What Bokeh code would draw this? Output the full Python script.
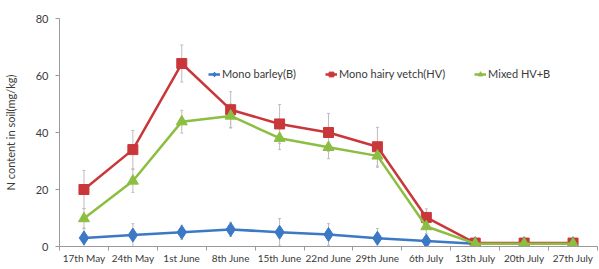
from bokeh.plotting import figure
from bokeh.models import (Range1d, FixedTicker, ColumnDataSource, Whisker, TeeHead,
                          Legend, LegendItem)
from bokeh.embed import file_html
from bokeh.resources import INLINE

dates = ["17th May", "24th May", "1st June", "8th June", "15th June", "22nd June",
         "29th June", "6th July", "13th July", "20th July", "27th July"]

barley = [3, 4, 5, 6, 5, 4.2, 2.9, 1.9, 1.0, 1.0, 1.0]
barley_err = [3.5, 4, 2.5, 2.5, 4.8, 3.8, 3.4, 1.5, 0.4, 0.4, 0.4]
vetch = [20, 34, 64.2, 48, 43, 40, 35, 10.2, 1.2, 1.2, 1.2]
vetch_err = [6.7, 6.7, 6.5, 6.3, 6.8, 6.7, 6.8, 3.0, 0.6, 0.6, 0.6]
mixed = [9.8, 23, 43.8, 45.8, 38, 34.8, 31.8, 7, 1.0, 1.0, 1.0]
mixed_err = [3.5, 4, 4, 4.2, 4, 4, 4, 2.5, 0.4, 0.4, 0.4]

series_names = ["Mono barley(B)", "Mono hairy vetch(HV)", "Mixed HV+B"]
colors = ["#3B78C6", "#C9373A", "#8CBE42"]
y_ticks = [0, 20, 40, 60, 80]

FONT = "Lato"
TXT = "#3a3a3a"
AX = "#9a9a9a"

x = list(range(len(dates)))

p = figure(width=599, height=269, output_backend="svg", toolbar_location=None,
           x_range=Range1d(-0.5, len(dates) - 0.5), y_range=Range1d(0, 80),
           min_border_left=58, min_border_right=2, min_border_top=18, min_border_bottom=23)
p.outline_line_color = None
p.grid.visible = False
p.background_fill_color = "white"
p.border_fill_color = "white"

# x axis
xa = p.xaxis[0]
xa.ticker = FixedTicker(ticks=x, minor_ticks=[i - 0.5 for i in range(len(dates) + 1)])
xa.major_label_overrides = {i: d for i, d in enumerate(dates)}
xa.major_tick_out = 0
xa.major_tick_in = 0
xa.minor_tick_out = 4
xa.minor_tick_in = 0
xa.minor_tick_line_color = AX
xa.axis_line_color = AX
xa.major_label_standoff = 1
xa.major_label_text_font = FONT
xa.major_label_text_font_size = "10px"
xa.major_label_text_color = TXT

# y axis
ya = p.yaxis[0]
ya.ticker = FixedTicker(ticks=y_ticks)
ya.minor_tick_line_color = None
ya.major_tick_out = 4
ya.major_tick_in = 0
ya.major_tick_line_color = AX
ya.axis_line_color = AX
ya.major_label_standoff = 7
ya.major_label_text_font = FONT
ya.major_label_text_font_size = "11px"
ya.major_label_text_color = TXT
ya.axis_label = "N content in soil(mg/kg)"
ya.axis_label_text_font = FONT
ya.axis_label_text_font_size = "11px"
ya.axis_label_text_font_style = "normal"
ya.axis_label_text_color = TXT
ya.axis_label_standoff = 16

items = []
for name, vals, errs, col, mk, size in [
    (series_names[0], barley, barley_err, colors[0], "diamond", 14),
    (series_names[1], vetch, vetch_err, colors[1], "square", 10),
    (series_names[2], mixed, mixed_err, colors[2], "triangle", 11),
]:
    src = ColumnDataSource(dict(x=x, y=vals,
                                lo=[v - e for v, e in zip(vals, errs)],
                                hi=[v + e for v, e in zip(vals, errs)]))
    w = Whisker(source=src, base="x", upper="hi", lower="lo", level="underlay",
                line_color="#bdbdbd", line_width=1,
                upper_head=TeeHead(size=3, line_color="#bdbdbd", line_width=1),
                lower_head=TeeHead(size=3, line_color="#bdbdbd", line_width=1))
    p.add_layout(w)
    ln = p.line("x", "y", source=src, line_color=col, line_width=2.5)
    sc = p.scatter("x", "y", source=src, marker=mk, size=size, fill_color=col,
                   line_color=col)
    items.append(LegendItem(label=name, renderers=[ln, sc]))

leg = Legend(items=items, orientation="horizontal", location=(149, 166),
             padding=0, margin=0, spacing=29, glyph_width=12, glyph_height=12,
             label_standoff=2, border_line_color=None, background_fill_alpha=0,
             label_text_font=FONT, label_text_font_size="11px", label_text_color=TXT)
p.add_layout(leg)

open("out.html", "w").write(file_html(p, INLINE))
